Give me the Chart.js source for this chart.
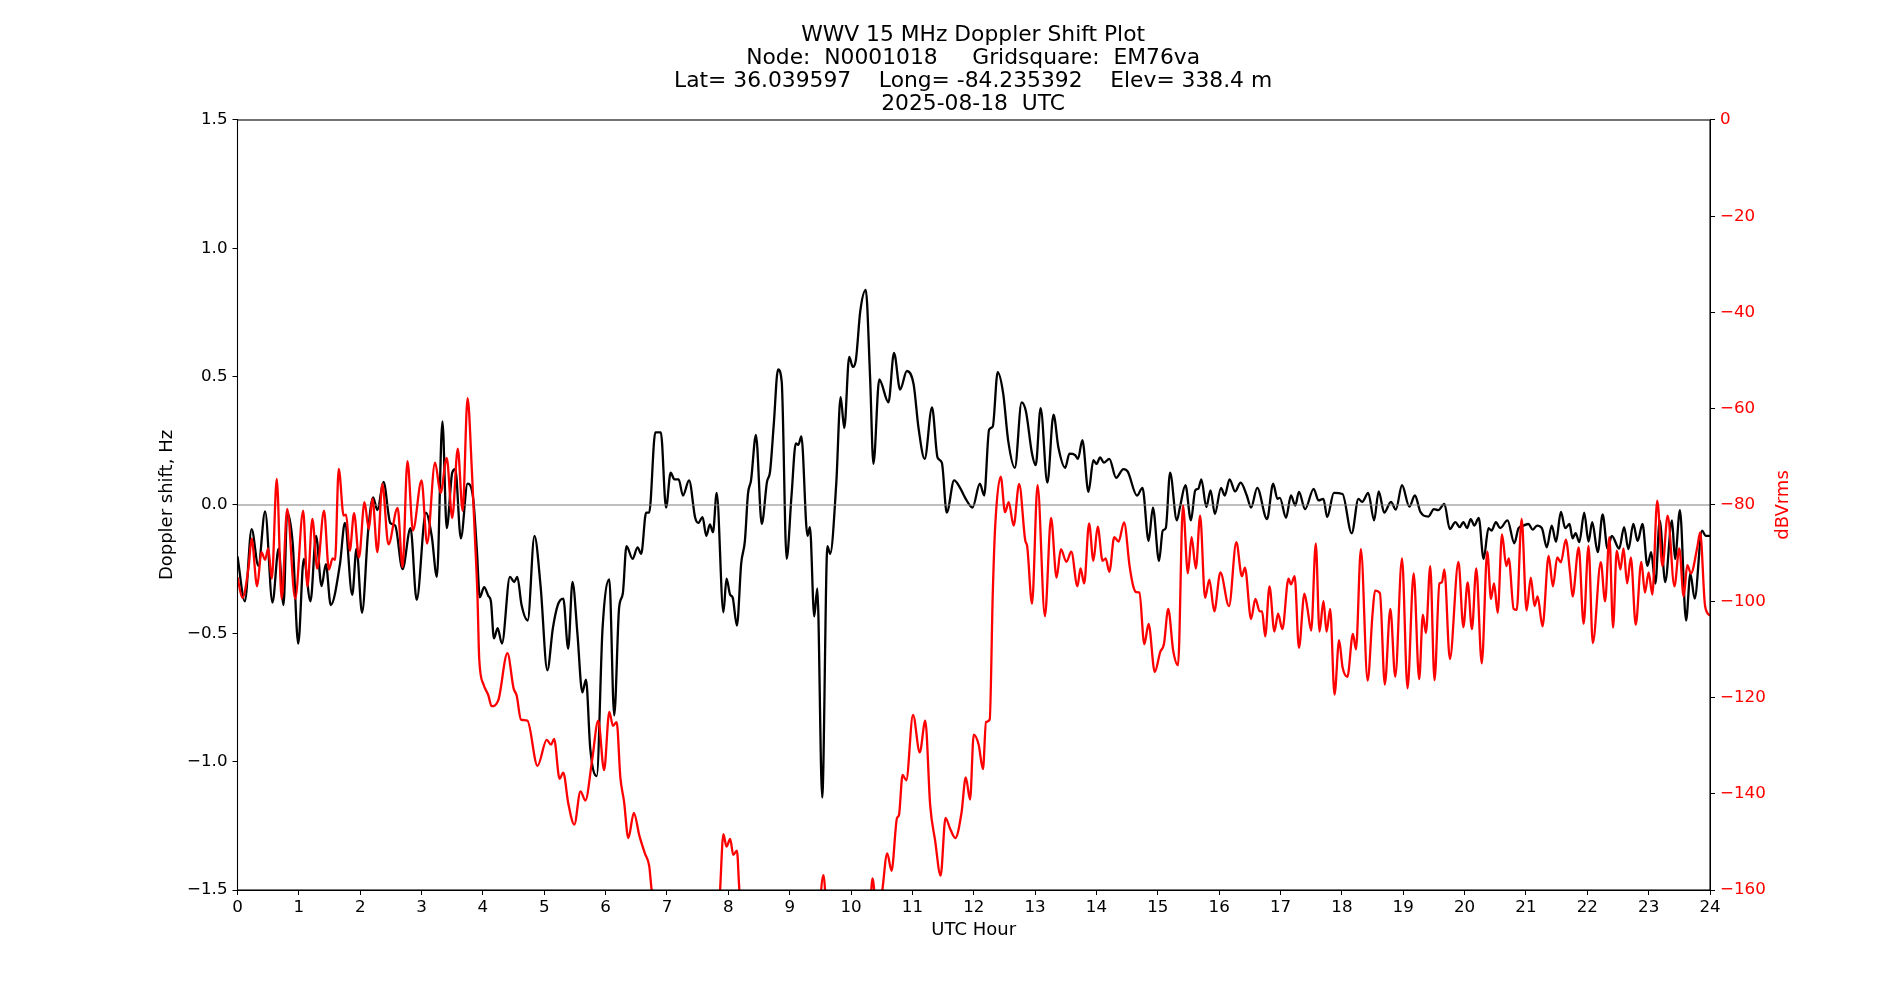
<!DOCTYPE html>
<html>
<head>
<meta charset="utf-8">
<title>WWV 15 MHz Doppler Shift Plot</title>
<script src="https://cdn.jsdelivr.net/npm/chart.js@4.4.1/dist/chart.umd.min.js"></script>
<style>
  html, body { margin: 0; padding: 0; background: #ffffff; }
  #grafico { display: block; }
</style>
</head>
<body>
<canvas id="grafico" width="1900" height="1000" style="width:1900px;height:1000px"></canvas>
<script>
// titulo del grafico (4 lineas)
const titleLines = [
  "WWV 15 MHz Doppler Shift Plot",
  "Node:  N0001018     Gridsquare:  EM76va",
  "Lat= 36.039597    Long= -84.235392    Elev= 338.4 m",
  "2025-08-18  UTC"
];

// ticks de los ejes
const hourTicks = [0,1,2,3,4,5,6,7,8,9,10,11,12,13,14,15,16,17,18,19,20,21,22,23,24];
const hzTicks = [-1.5,-1.0,-0.5,0.0,0.5,1.0,1.5];
const dbTicks = [-160,-140,-120,-100,-80,-60,-40,-20,0];

// Doppler shift (Hz)
const dopplerHours = [
  0.0,0.12,0.23,0.34,0.45,0.57,0.67,0.75,0.81,0.90,0.99,1.08,1.19,1.28,1.37,1.44,1.52,1.67,1.75,1.87,
  1.94,2.03,2.13,2.21,2.28,2.38,2.49,2.57,2.69,2.82,2.92,3.07,3.165,3.25,3.34,3.41,3.50,3.55,3.64,3.75,
  3.84,3.90,3.95,4.02,4.09,4.13,4.18,4.24,4.31,4.44,4.51,4.56,4.63,4.73,4.84,4.94,5.05,5.14,5.22,5.31,
  5.39,5.46,5.54,5.62,5.68,5.75,5.855,5.95,6.06,6.14,6.22,6.28,6.34,6.44,6.52,6.58,6.66,6.71,6.81,6.90,
  6.985,7.06,7.12,7.19,7.26,7.36,7.46,7.51,7.58,7.64,7.70,7.75,7.81,7.92,7.97,8.03,8.07,8.14,8.21,8.27,
  8.32,8.37,8.45,8.545,8.63,8.68,8.74,8.81,8.87,8.95,9.03,9.10,9.14,9.19,9.29,9.33,9.40,9.45,9.53,9.615,
  9.66,9.76,9.83,9.89,9.97,10.03,10.08,10.15,10.24,10.31,10.365,10.46,10.61,10.70,10.80,10.91,11.02,11.10,11.20,11.32,
  11.41,11.48,11.56,11.68,11.77,11.86,11.98,12.10,12.17,12.25,12.31,12.39,12.48,12.56,12.67,12.78,12.85,12.95,13.01,13.09,
  13.20,13.30,13.38,13.49,13.56,13.65,13.70,13.77,13.87,13.95,14.00,14.06,14.12,14.21,14.32,14.44,14.51,14.66,14.75,14.85,
  14.92,15.02,15.08,15.13,15.20,15.31,15.36,15.45,15.54,15.61,15.66,15.71,15.79,15.86,15.93,16.03,16.09,16.17,16.26,16.35,
  16.45,16.52,16.62,16.78,16.88,16.95,16.99,17.09,17.17,17.24,17.30,17.40,17.54,17.62,17.70,17.76,17.87,18.01,18.16,18.27,
  18.33,18.43,18.525,18.60,18.69,18.80,18.88,18.98,19.10,19.19,19.28,19.41,19.50,19.57,19.67,19.76,19.85,19.92,19.98,20.04,
  20.10,20.16,20.23,20.31,20.39,20.44,20.51,20.58,20.70,20.81,20.88,20.96,21.04,21.11,21.18,21.26,21.34,21.42,21.49,21.57,
  21.64,21.71,21.76,21.81,21.87,21.95,22.02,22.08,22.17,22.25,22.33,22.40,22.52,22.60,22.67,22.75,22.82,22.90,22.98,23.04,
  23.11,23.18,23.27,23.38,23.43,23.51,23.61,23.68,23.75,23.87,23.93,24.0
];
const dopplerHz = [
  -0.20,-0.375,-0.094,-0.237,-0.025,-0.38,-0.17,-0.39,-0.03,-0.15,-0.54,-0.21,-0.375,-0.12,-0.316,-0.23,-0.39,-0.23,-0.07,-0.35,
  -0.17,-0.42,-0.10,0.03,-0.02,0.09,-0.07,-0.08,-0.25,-0.09,-0.37,-0.03,-0.12,-0.28,0.326,-0.09,0.126,0.14,-0.13,0.083,
  0.028,-0.17,-0.36,-0.32,-0.355,-0.375,-0.52,-0.48,-0.54,-0.28,-0.30,-0.28,-0.39,-0.45,-0.12,-0.316,-0.644,-0.48,-0.39,-0.365,
  -0.56,-0.30,-0.50,-0.73,-0.68,-0.95,-1.056,-0.48,-0.29,-0.82,-0.40,-0.345,-0.16,-0.21,-0.165,-0.19,-0.03,-0.03,0.283,0.283,
  -0.01,0.126,0.10,0.10,0.037,0.096,-0.05,-0.07,-0.047,-0.12,-0.076,-0.106,0.047,-0.418,-0.287,-0.35,-0.36,-0.47,-0.227,-0.14,
  0.043,0.096,0.273,-0.074,0.09,0.13,0.312,0.528,0.48,-0.21,0.037,0.24,0.234,0.267,-0.12,-0.086,-0.434,-0.325,-1.14,-0.16,
  -0.19,0.087,0.42,0.30,0.577,0.538,0.567,0.754,0.838,0.50,0.16,0.489,0.40,0.593,0.45,0.522,0.47,0.30,0.18,0.38,
  0.185,0.165,-0.03,0.096,0.07,0.028,-0.01,0.083,0.037,0.293,0.306,0.518,0.434,0.253,0.145,0.40,0.365,0.20,0.155,0.377,
  0.087,0.352,0.224,0.145,0.20,0.195,0.18,0.253,0.051,0.175,0.16,0.185,0.165,0.18,0.106,0.14,0.13,0.037,0.067,-0.14,
  -0.01,-0.218,-0.10,-0.09,0.126,-0.06,-0.01,0.077,-0.06,0.057,0.063,0.10,-0.008,0.057,-0.035,0.067,0.037,0.10,0.053,0.087,
  0.037,-0.01,0.067,-0.055,0.083,0.024,0.028,-0.05,0.037,-0.002,0.051,-0.016,0.063,0.018,0.024,-0.047,0.047,0.043,-0.11,0.024,
  0.012,0.047,-0.06,0.053,-0.03,0.012,-0.018,0.077,-0.006,0.037,-0.027,-0.045,-0.016,-0.02,0.004,-0.094,-0.067,-0.086,-0.067,-0.09,
  -0.055,-0.08,-0.05,-0.21,-0.09,-0.10,-0.067,-0.09,-0.06,-0.149,-0.09,-0.08,-0.074,-0.096,-0.08,-0.09,-0.165,-0.08,-0.143,-0.027,
  -0.09,-0.074,-0.13,-0.11,-0.145,-0.03,-0.143,-0.067,-0.184,-0.037,-0.17,-0.12,-0.17,-0.086,-0.172,-0.074,-0.14,-0.074,-0.237,-0.184,
  -0.306,-0.06,-0.30,-0.06,-0.21,-0.02,-0.45,-0.267,-0.365,-0.10,-0.12,-0.12
];

// nivel de senal (dBVrms); los valores bajo -160 quedan fuera del area
const signalHours = [
  0.0,0.08,0.18,0.23,0.32,0.39,0.45,0.50,0.56,0.64,0.72,0.81,0.94,1.07,1.14,1.22,1.30,1.41,1.49,1.55,
  1.59,1.65,1.73,1.77,1.83,1.90,1.98,2.07,2.14,2.20,2.28,2.36,2.46,2.61,2.69,2.77,2.86,3.00,3.09,3.22,
  3.31,3.41,3.50,3.59,3.67,3.75,3.82,3.87,3.91,3.94,4.01,4.09,4.14,4.25,4.40,4.50,4.55,4.62,4.725,4.89,
  5.04,5.11,5.16,5.25,5.31,5.39,5.49,5.59,5.67,5.78,5.88,5.975,6.06,6.12,6.18,6.24,6.30,6.37,6.46,6.55,
  6.64,6.71,6.75,6.85,7.2,7.6,7.85,7.92,7.97,8.03,8.08,8.14,8.18,8.3,8.9,9.45,9.55,9.62,10.0,10.30,
  10.35,10.42,10.50,10.59,10.66,10.75,10.78,10.84,10.90,11.01,11.12,11.21,11.29,11.37,11.46,11.54,11.61,11.70,11.80,11.87,
  11.94,12.00,12.08,12.15,12.20,12.26,12.31,12.35,12.44,12.51,12.57,12.65,12.74,12.84,12.87,12.95,13.04,13.16,13.26,13.35,
  13.42,13.51,13.59,13.69,13.74,13.80,13.88,13.95,14.02,14.10,14.15,14.21,14.29,14.36,14.45,14.54,14.60,14.65,14.70,14.78,
  14.85,14.95,15.04,15.10,15.17,15.25,15.33,15.41,15.49,15.55,15.62,15.69,15.77,15.84,15.92,16.02,16.16,16.28,16.37,16.42,
  16.52,16.59,16.66,16.70,16.75,16.82,16.90,16.96,17.03,17.13,17.17,17.23,17.30,17.39,17.44,17.50,17.575,17.635,17.70,17.75,
  17.81,17.88,17.955,18.01,18.09,18.18,18.23,18.31,18.42,18.50,18.54,18.62,18.70,18.79,18.87,18.98,19.07,19.17,19.26,19.32,
  19.37,19.44,19.51,19.59,19.63,19.67,19.76,19.90,19.98,20.05,20.12,20.19,20.28,20.37,20.43,20.48,20.54,20.61,20.68,20.72,
  20.80,20.85,20.93,21.01,21.08,21.14,21.19,21.27,21.37,21.44,21.51,21.57,21.65,21.72,21.76,21.86,21.94,22.02,22.09,22.22,
  22.29,22.36,22.42,22.48,22.54,22.59,22.65,22.71,22.79,22.88,22.94,23.0,23.06,23.14,23.225,23.31,23.42,23.50,23.57,23.63,
  23.69,23.79,23.84,23.92,24.0
];
const signalDb = [
  -95,-99.3,-93,-87,-96.9,-89.8,-91.4,-89,-95.3,-74.6,-99.5,-80.8,-99.5,-81.2,-96.9,-82.9,-93.2,-81.2,-93.4,-91.1,
  -91.4,-72.5,-82.2,-82,-89.5,-81.7,-90.9,-79.4,-85,-78.7,-89.8,-75.6,-88.2,-80.6,-92.9,-70.9,-85.3,-74.9,-88,-71.2,
  -77.5,-70.2,-82.7,-68.3,-81.2,-57.8,-72.8,-86.9,-98.4,-112,-117.3,-119.6,-121.8,-120.6,-110.8,-118.1,-119.6,-124.6,-124.8,-134.2,
  -128.8,-129.8,-128.6,-136.9,-135.6,-141.9,-146.4,-139.5,-141.4,-133,-124.8,-135.1,-123,-125.9,-125.1,-136.6,-141.6,-149.2,-144,-148.7,
  -152.4,-155,-160,-168,-175,-172,-163,-148.4,-151,-149.4,-152.7,-151.8,-160,-170,-175,-168,-156.9,-168,-175,-166,
  -157.6,-165,-161,-152.4,-156,-145,-144.5,-136.1,-137.2,-123.6,-131.4,-124.8,-142.4,-149.7,-157,-145,-147.1,-149.2,-144,-136.6,
  -141.2,-127.7,-129.8,-134.9,-125.1,-124.6,-98.4,-84.3,-74.1,-81.5,-79.4,-84.3,-75.6,-87.4,-88.5,-100.5,-75.9,-103.1,-82.7,-95.1,
  -89.2,-91.8,-89.7,-96.9,-93.2,-96.3,-83.8,-91.6,-84.5,-91.6,-91.1,-93.9,-86.7,-87.6,-83.6,-92.7,-96.9,-98.1,-98.2,-108.9,
  -104.7,-114.7,-110.5,-108.9,-101.6,-110.2,-113.3,-80.1,-94.2,-86.7,-93.2,-82.2,-99.3,-95.5,-102.1,-94,-101,-87.7,-94.8,-93,
  -103.7,-99.5,-102.1,-102.1,-107.3,-96.9,-106.3,-102.6,-105.8,-95.3,-96.5,-94.8,-109.7,-98.4,-101.6,-106.1,-88,-106.3,-100,-106.3,
  -101.6,-119.4,-108.1,-113.6,-115.7,-106.8,-110,-89.2,-116.5,-102.6,-97.8,-98.3,-117.3,-101.6,-115.7,-91.1,-118.1,-94.2,-116.2,-102.8,
  -106.6,-92.7,-116.4,-96.3,-96.1,-93.4,-112,-91.8,-105.4,-96.1,-105.8,-93.2,-112.9,-89.7,-99.5,-96.3,-102.4,-86.1,-92.7,-91.1,
  -101.6,-101.8,-82.9,-101.9,-95.1,-101,-99,-105.2,-90.6,-96.9,-90.9,-91.9,-87.2,-94.2,-99,-88.8,-104.7,-88.5,-108.7,-91.9,
  -100,-86.7,-105.5,-89.5,-93.4,-89,-96.3,-90.9,-104.9,-91.8,-98.2,-94,-98.6,-79.1,-92.7,-82.2,-96.9,-89,-99,-92.5,
  -94.2,-89,-85.7,-101,-103
];

// linea horizontal en 0 Hz
const zeroHours = [0, 24];
const zeroHz = [0, 0];

Chart.defaults.font.family = "'DejaVu Sans', sans-serif";
Chart.defaults.font.size = 16.7;
Chart.defaults.color = "#000000";

function juntar(xs, ys) {
  return xs.map((x, i) => ({ x: x, y: ys[i] }));
}

function menos(v) {
  return v < 0 ? "\u2212" + Math.abs(v) : String(v);
}

// marco negro alrededor del area + etiqueta derecha girada
const marcoPlugin = {
  id: "marco",
  afterDraw(chart) {
    const a = chart.chartArea;
    const ctx = chart.ctx;
    ctx.save();
    ctx.strokeStyle = "#000000";
    ctx.lineWidth = 1.1;
    ctx.strokeRect(a.left, a.top, a.right - a.left, a.bottom - a.top);
    ctx.translate(1783, (a.top + a.bottom) / 2);
    ctx.rotate(-Math.PI / 2);
    ctx.fillStyle = "#ff0000";
    ctx.font = "18px 'DejaVu Sans', sans-serif";
    ctx.textAlign = "center";
    ctx.textBaseline = "middle";
    ctx.fillText("dBVrms", 0, 0);
    ctx.restore();
  }
};

const tickGrid = {
  display: true,
  drawOnChartArea: false,
  drawTicks: true,
  tickLength: 5,
  tickColor: "#000000",
  tickWidth: 1
};

const ctx = document.getElementById("grafico").getContext("2d");
const myChart = new Chart(ctx, {
  type: "line",
  data: {
    datasets: [
      {
        label: "dBVrms",
        data: juntar(signalHours, signalDb),
        yAxisID: "y2",
        borderColor: "#ff0000",
        borderWidth: 2.3,
        pointRadius: 0,
        fill: false,
        cubicInterpolationMode: "monotone",
        order: 0
      },
      {
        label: "zero",
        data: juntar(zeroHours, zeroHz),
        yAxisID: "y",
        borderColor: "#808080",
        borderWidth: 1.2,
        pointRadius: 0,
        fill: false,
        order: 1
      },
      {
        label: "Doppler shift",
        data: juntar(dopplerHours, dopplerHz),
        yAxisID: "y",
        borderColor: "#000000",
        borderWidth: 2.3,
        pointRadius: 0,
        fill: false,
        cubicInterpolationMode: "monotone",
        order: 2
      }
    ]
  },
  options: {
    responsive: false,
    animation: false,
    events: [],
    layout: { padding: { left: 152.2, right: 106, top: 0, bottom: 54.7 } },
    plugins: {
      legend: { display: false },
      tooltip: { enabled: false },
      title: {
        display: true,
        text: titleLines,
        color: "#000000",
        font: { size: 21.8, weight: "normal", lineHeight: 1.055 },
        padding: { top: 23.5, bottom: 4.5 }
      }
    },
    scales: {
      x: {
        type: "linear",
        min: 0,
        max: 24,
        afterBuildTicks(scale) { scale.ticks = hourTicks.map(v => ({ value: v })); },
        afterFit(scale) { scale.height = 55.3; },
        ticks: { autoSkip: false, maxRotation: 0, padding: 3, color: "#000000" },
        grid: tickGrid,
        border: { display: true, color: "#000000", width: 1 },
        title: { display: true, text: "UTC Hour", color: "#000000", font: { size: 18 }, padding: { top: 4, bottom: 4 } }
      },
      y: {
        type: "linear",
        position: "left",
        min: -1.5,
        max: 1.5,
        afterBuildTicks(scale) { scale.ticks = hzTicks.map(v => ({ value: v })); },
        afterFit(scale) { scale.width = 85.3; },
        ticks: {
          padding: 5,
          color: "#000000",
          callback: v => (v < 0 ? "\u2212" : "") + Math.abs(v).toFixed(1)
        },
        grid: tickGrid,
        border: { display: true, color: "#000000", width: 1 },
        title: { display: true, text: "Doppler shift, Hz", color: "#000000", font: { size: 18 }, padding: { top: 4, bottom: 4 } }
      },
      y2: {
        type: "linear",
        position: "right",
        min: -160,
        max: 0,
        afterBuildTicks(scale) { scale.ticks = dbTicks.map(v => ({ value: v })); },
        afterFit(scale) { scale.width = 84; },
        ticks: { padding: 5, color: "#ff0000", callback: v => menos(v) },
        grid: tickGrid,
        border: { display: true, color: "#000000", width: 1 }
      }
    }
  },
  plugins: [marcoPlugin]
});
</script>
</body>
</html>
